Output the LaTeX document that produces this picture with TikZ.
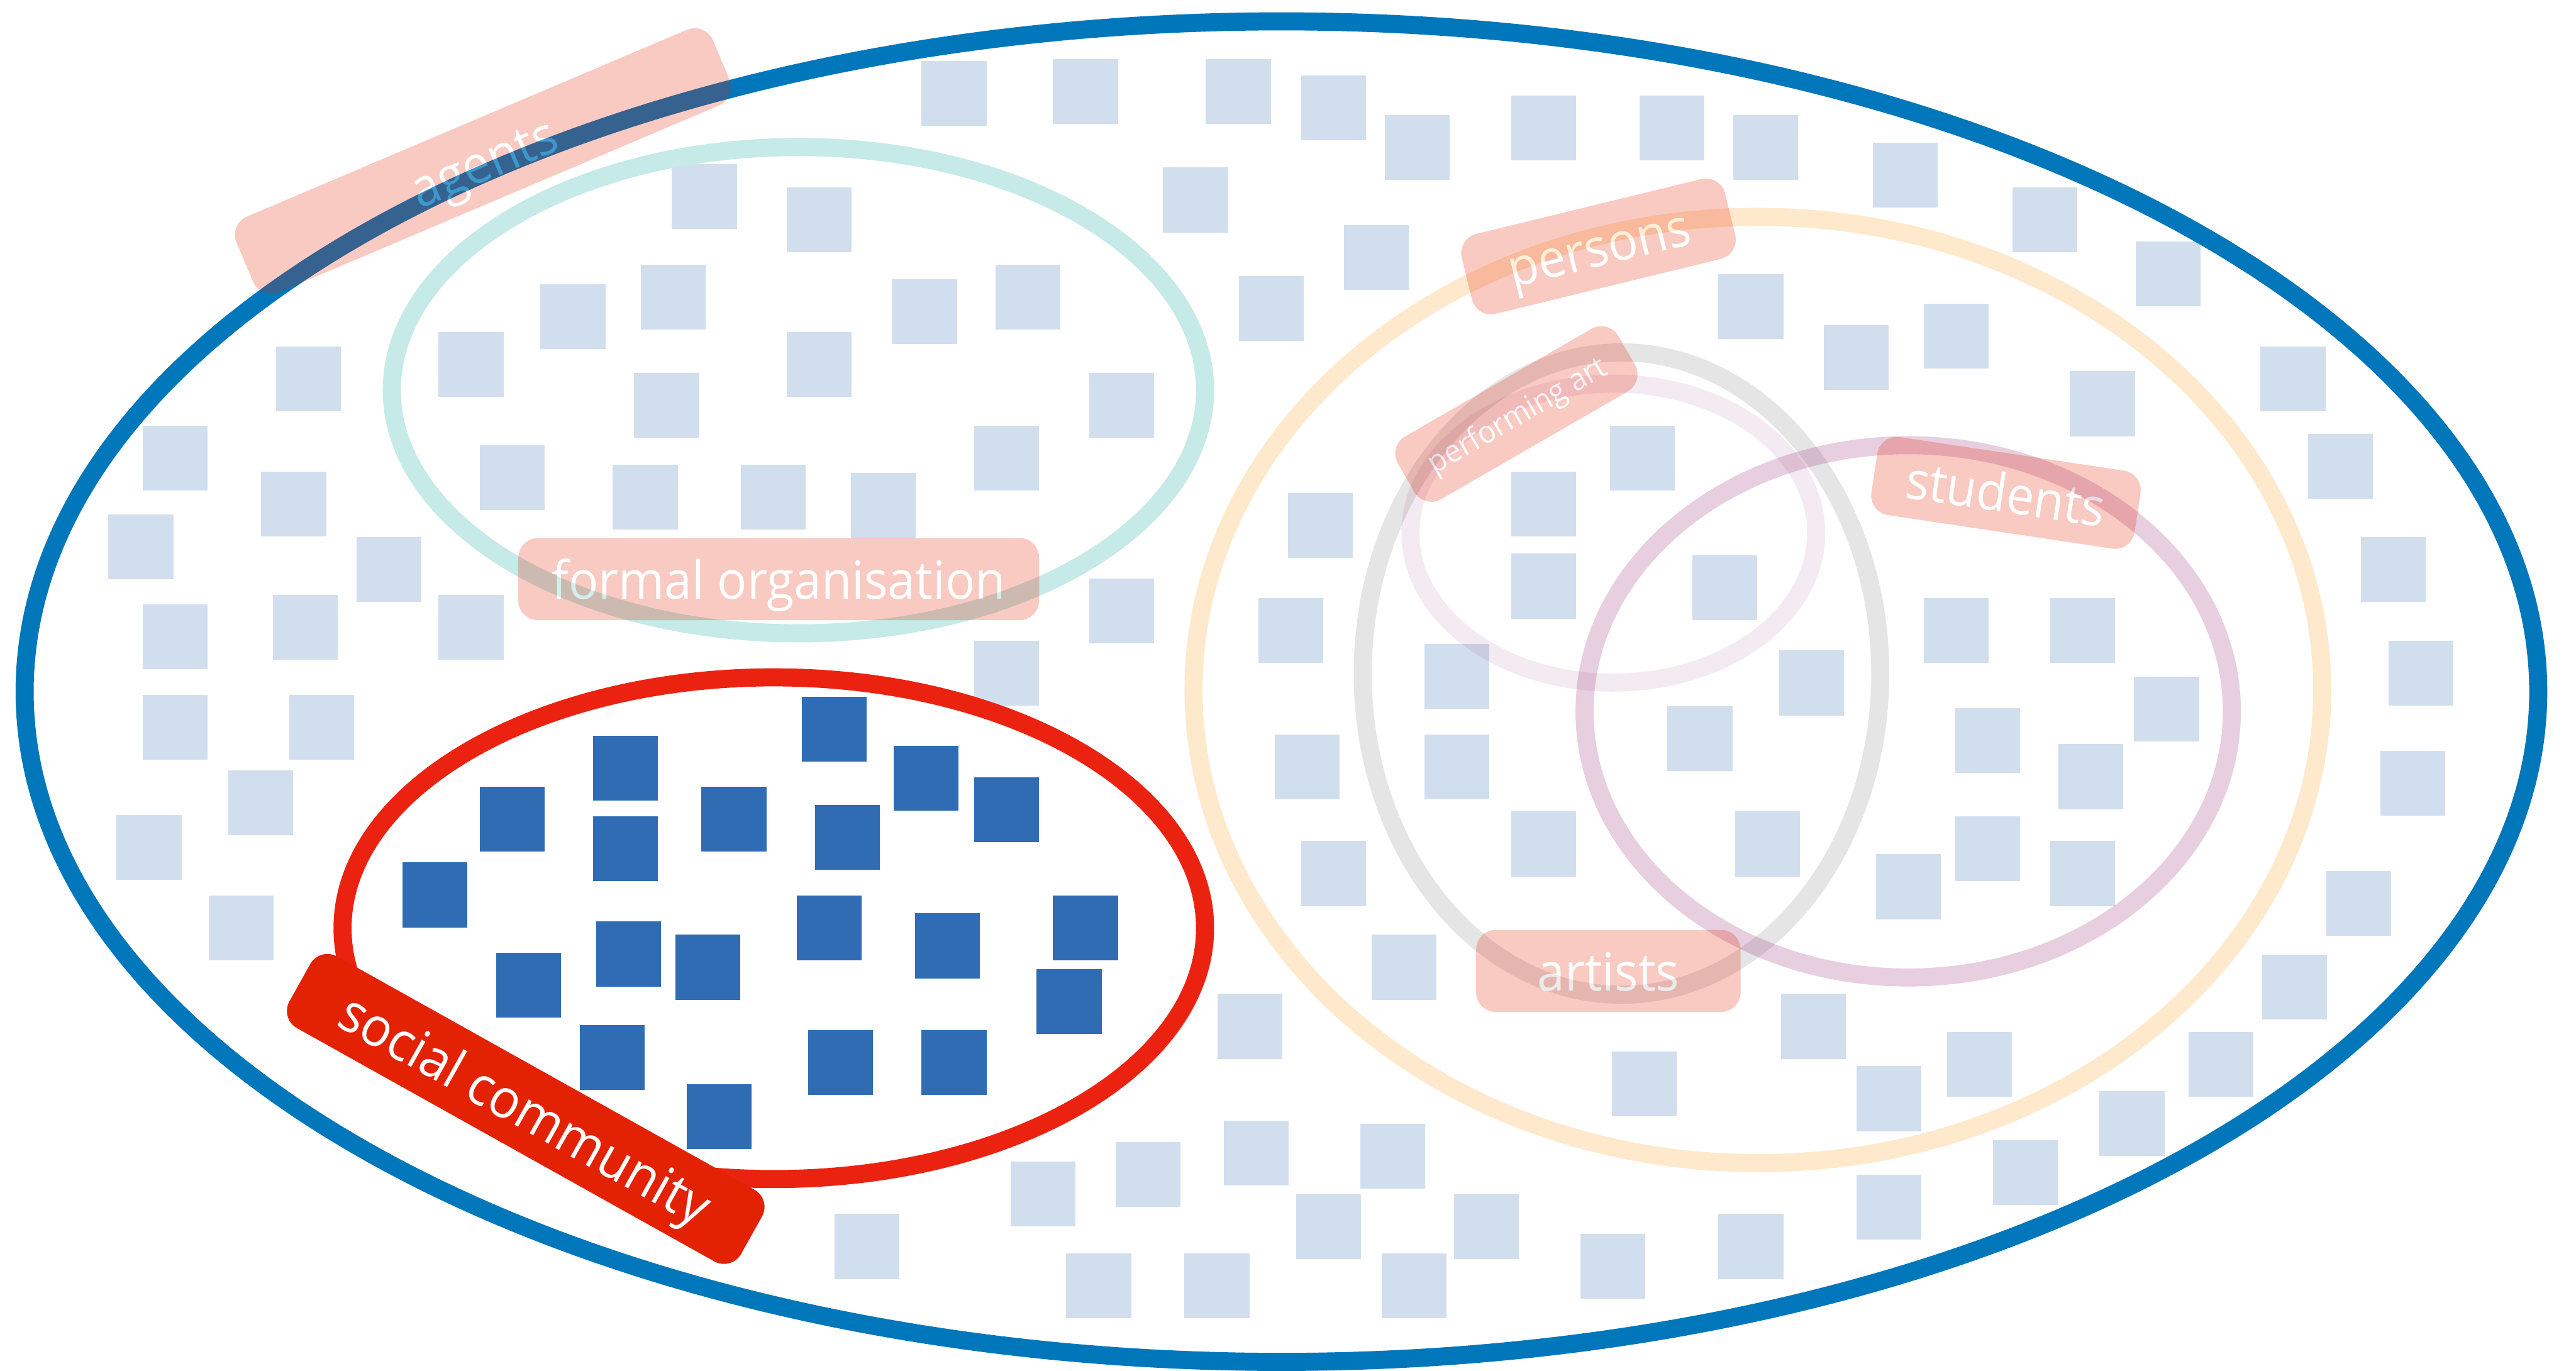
\documentclass[tikz,border=0pt]{standalone}
\usepackage{fontspec}
\newfontfamily\lblfont{Open Sans}[FakeStretch=0.94]
\definecolor{sqlight}{RGB}{209,222,237}
\definecolor{sqdark}{RGB}{48,108,180}
\definecolor{outerblue}{RGB}{0,119,187}
\definecolor{ringred}{RGB}{236,34,16}
\definecolor{boxred}{RGB}{227,34,4}
\definecolor{ringteal}{RGB}{198,234,231}
\definecolor{ringorange}{RGB}{255,233,204}
\definecolor{ringpurple}{RGB}{153,51,119}
\tikzset{
  lsq/.style={fill=sqlight},
  dsq/.style={fill=sqdark},
  ring/.style={line width=11pt},
  tag/.style={fill=boxred, text=white, rounded corners=12pt, inner sep=0pt,
    text height=24pt, text depth=0pt, minimum height=50pt,
    font=\lblfont\fontsize{32}{38}\selectfont},
}
\begin{document}
\begin{tikzpicture}[x=1pt,y=-1pt]
\useasboundingbox (0,0) rectangle (1568,834.4);
\fill[white] (0,0) rectangle (1568,834.4);
% light squares
\foreach \x/\y in {561/37, 641/36, 734/36, 792/46, 843/70, 920/58, 998/58, 1055/70, 1140/87, 1225/114, 1300/147, 708/102, 818/137, 754/168,
409/100, 479/114, 329/173, 390/161, 543/170, 606/161, 267/202, 479/202, 386/227, 663/227, 292/271, 373/283, 451/283, 518/288, 593/259,
168/211, 87/259, 159/287, 66/313, 217/327, 87/368, 166/362, 267/362, 87/423, 176/423, 139/469, 71/496, 127/545,
663/352, 593/390,
1376/211, 1405/264, 1437/327, 1454/390, 1449/457, 1416/530, 1377/581, 1332/628, 1278/664, 1213/694,
1046/167, 1110/198, 1171/185, 1260/226, 784/300, 766/364, 776/447, 792/512, 835/569, 980/259, 920/287, 920/337, 1030/338, 867/392, 867/447, 1083/396, 1015/430, 920/494, 1056/494, 1171/364, 1248/364, 1299/412, 1190/431, 1253/453, 1190/497, 1248/512, 1142/520, 1084/605, 1185/628, 981/640,
741/605, 745/682, 828/684, 679/695, 615/707, 789/727, 885/727, 508/739, 649/763, 721/763, 841/763, 962/751, 1046/739, 1130/649, 1130/715}
  \fill[lsq] (\x,\y) rectangle ++(39.5,39.5);
% dark squares
\foreach \x/\y in {361/448, 488/424, 544/454, 593/473, 292/479, 361/497, 427/479, 496/490, 245/525, 363/561, 411/569, 485/545, 557/556, 641/545, 302/580, 631/590, 353/624, 492/627, 561/627, 418/660}
  \fill[dsq] (\x,\y) rectangle ++(39.5,39.5);
% rings
\draw[ring, ringteal] (486,237.5) ellipse [x radius=247.5, y radius=148];
\draw[ring, ringorange] (1070,420) ellipse [x radius=343.5, y radius=288];
\draw[ring, ringpurple, draw opacity=0.1] (982,324.5) ellipse [x radius=123.5, y radius=91];
\draw[ring, black, draw opacity=0.1] (987,410) ellipse [x radius=157.5, y radius=195.5];
\draw[ring, ringpurple, draw opacity=0.23] (1161.5,433) ellipse [x radius=197, y radius=162];
\draw[ring, ringred] (471,565) ellipse [x radius=262.5, y radius=152.7];
\draw[ring, outerblue] (780,421) ellipse [x radius=765, y radius=408];
% translucent labels
\begin{scope}[transparency group, opacity=0.24]
  \node[tag, minimum width=315pt, rotate=23] (agents) at (294,98) {agents};
  \node[tag, minimum width=317pt] (formal) at (474,352.5) {formal organisation};
  \node[tag, minimum width=165pt, rotate=13.7] (persons) at (973,150) {persons};
  \node[tag, minimum width=155pt, minimum height=44pt, rotate=30, text height=14pt,
        font=\lblfont\fontsize{19}{23}\selectfont] (perf) at (923,252) {performing art};
  \node[tag, minimum width=162pt, minimum height=48pt, rotate=-8.5] (students) at (1221,300) {students};
  \node[tag, minimum width=161pt] (artists) at (979,591) {artists};
\end{scope}
\node[tag, minimum width=315pt, rotate=-29.2, font=\lblfont\fontsize{33}{38}\selectfont] (social) at (320,675) {social community};
\end{tikzpicture}
\end{document}
